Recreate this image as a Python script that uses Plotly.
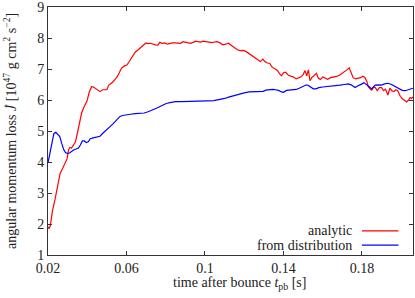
import plotly.graph_objects as go

# analytic (red)
t_analytic = [0.0200,0.0205,0.0212,0.0222,0.0236,0.0250,0.0262,0.0275,0.0287,0.0297,0.0305,0.0312,0.0320,0.0330,0.0340,0.0352,0.0362,0.0372,0.0385,0.0398,0.0410,0.0422,0.0432,0.0442,0.0455,0.0465,0.0478,0.0490,0.0500,0.0510,0.0525,0.0540,0.0553,0.0565,0.0575,0.0590,0.0602,0.0615,0.0630,0.0645,0.0660,0.0675,0.0688,0.0700,0.0710,0.0722,0.0735,0.0748,0.0760,0.0770,0.0782,0.0795,0.0808,0.0820,0.0835,0.0848,0.0860,0.0875,0.0888,0.0900,0.0912,0.0925,0.0940,0.0952,0.0965,0.0978,0.0990,0.1005,0.1020,0.1035,0.1050,0.1060,0.1075,0.1090,0.1105,0.1120,0.1135,0.1150,0.1165,0.1180,0.1195,0.1210,0.1230,0.1245,0.1258,0.1270,0.1282,0.1295,0.1305,0.1315,0.1330,0.1342,0.1355,0.1368,0.1380,0.1390,0.1400,0.1410,0.1425,0.1440,0.1452,0.1465,0.1478,0.1488,0.1500,0.1510,0.1518,0.1527,0.1535,0.1545,0.1555,0.1568,0.1578,0.1588,0.1600,0.1612,0.1625,0.1640,0.1655,0.1670,0.1685,0.1698,0.1712,0.1725,0.1735,0.1745,0.1755,0.1768,0.1780,0.1792,0.1805,0.1815,0.1825,0.1832,0.1842,0.1850,0.1860,0.1868,0.1878,0.1888,0.1900,0.1910,0.1920,0.1932,0.1942,0.1952,0.1962,0.1972,0.1982,0.1995,0.2005,0.2018,0.2028,0.2038,0.2045,0.2053,0.2060]
j_analytic = [1.91,1.85,1.95,2.4,2.8,3.3,3.64,3.8,3.95,4.1,4.4,4.47,4.45,4.55,4.65,5.0,5.3,5.6,5.8,5.95,6.25,6.43,6.42,6.38,6.3,6.27,6.33,6.33,6.33,6.48,6.55,6.65,6.75,6.9,7.03,7.1,7.13,7.25,7.42,7.55,7.62,7.72,7.78,7.84,7.82,7.83,7.8,7.78,7.77,7.86,7.83,7.84,7.8,7.82,7.84,7.84,7.84,7.83,7.88,7.87,7.85,7.83,7.86,7.9,7.88,7.87,7.9,7.88,7.85,7.85,7.87,7.88,7.85,7.78,7.8,7.83,7.76,7.7,7.62,7.59,7.6,7.56,7.47,7.4,7.34,7.28,7.24,7.32,7.24,7.2,7.18,7.06,7.0,6.96,6.85,6.78,6.88,6.9,6.8,6.78,6.74,6.68,6.7,6.74,6.82,6.95,6.78,6.97,6.62,6.73,6.78,6.86,6.7,6.66,6.74,6.7,6.67,6.72,6.73,6.76,6.8,6.85,6.92,6.98,7.04,6.85,6.72,6.68,6.7,6.72,6.77,6.72,6.6,6.43,6.35,6.32,6.42,6.4,6.3,6.4,6.4,6.3,6.35,6.16,6.38,6.3,6.27,6.33,6.3,6.12,6.05,6.0,5.94,6.0,6.08,6.05,6.1]

# from distribution (blue)
t_dist = [0.0200,0.0210,0.0220,0.0230,0.0240,0.0250,0.0260,0.0270,0.0280,0.0290,0.0300,0.0310,0.0320,0.0330,0.0343,0.0355,0.0365,0.0375,0.0385,0.0395,0.0405,0.0415,0.0430,0.0450,0.0465,0.0478,0.0490,0.0505,0.0516,0.0530,0.0542,0.0555,0.0567,0.0580,0.0595,0.0620,0.0645,0.0670,0.0690,0.0710,0.0725,0.0740,0.0755,0.0770,0.0785,0.0800,0.0815,0.0830,0.0850,0.0880,0.0910,0.0940,0.0975,0.1010,0.1045,0.1075,0.1100,0.1125,0.1150,0.1175,0.1200,0.1225,0.1250,0.1275,0.1296,0.1310,0.1330,0.1345,0.1360,0.1375,0.1390,0.1400,0.1415,0.1435,0.1465,0.1480,0.1492,0.1505,0.1517,0.1527,0.1540,0.1552,0.1565,0.1580,0.1600,0.1620,0.1655,0.1688,0.1710,0.1730,0.1745,0.1757,0.1765,0.1778,0.1790,0.1800,0.1810,0.1820,0.1832,0.1840,0.1849,0.1858,0.1868,0.1885,0.1900,0.1915,0.1933,0.1948,0.1960,0.1975,0.1990,0.2005,0.2020,0.2035,0.2048,0.2060]
j_dist = [3.97,4.3,4.7,4.92,4.96,4.9,4.82,4.6,4.4,4.3,4.28,4.29,4.34,4.39,4.42,4.45,4.55,4.68,4.68,4.63,4.65,4.75,4.78,4.81,4.83,4.92,5.0,5.08,5.14,5.22,5.3,5.4,5.47,5.5,5.52,5.54,5.56,5.57,5.58,5.62,5.65,5.7,5.74,5.79,5.84,5.88,5.91,5.93,5.95,5.95,5.95,5.95,5.96,5.97,5.98,6.01,6.05,6.1,6.15,6.2,6.23,6.26,6.27,6.27,6.28,6.32,6.34,6.34,6.33,6.31,6.26,6.25,6.31,6.33,6.34,6.38,6.42,6.47,6.49,6.47,6.41,6.36,6.36,6.4,6.42,6.43,6.44,6.48,6.5,6.52,6.49,6.43,6.4,6.45,6.48,6.52,6.56,6.52,6.45,6.41,6.36,6.42,6.48,6.49,6.48,6.52,6.54,6.51,6.47,6.42,6.35,6.31,6.3,6.33,6.35,6.38]

x_ticks = [0.02, 0.06, 0.1, 0.14, 0.18]
x_ticklabels = ["0.02", "0.06", "0.1", "0.14", "0.18"]
y_ticks = [1, 2, 3, 4, 5, 6, 7, 8, 9]
series_names = ["analytic", "from distribution"]
series_colors = ["#ff0000", "#0000ff"]
x_title = "time after bounce <i>t</i><sub>pb</sub> [s]"
y_title = "angular momentum loss <i>J&#775;</i> [10<sup>47</sup> g cm<sup>2</sup> s<sup>\u22122</sup>]"

FONT = "Liberation Serif"
TXT = "#222222"

fig = go.Figure()
fig.add_trace(go.Scatter(x=t_analytic, y=j_analytic, mode="lines", name=series_names[0],
                         line=dict(color=series_colors[0], width=1.2), showlegend=False))
fig.add_trace(go.Scatter(x=t_dist, y=j_dist, mode="lines", name=series_names[1],
                         line=dict(color=series_colors[1], width=1.2), showlegend=False))

axis_common = dict(showline=True, linecolor="#333333", linewidth=1, mirror="ticks",
                   ticks="inside", ticklen=4, tickcolor="#333333", showgrid=False,
                   zeroline=False, automargin=False, ticklabeloverflow="allow",
                   tickfont=dict(family=FONT, size=14, color=TXT))

fig.update_xaxes(range=[0.02, 0.206], tickvals=x_ticks, ticktext=x_ticklabels, **axis_common)
fig.update_yaxes(range=[1, 9], tickvals=y_ticks, **axis_common)

# axis titles
fig.add_annotation(x=0.526, y=-0.113, xref="paper", yref="paper", text=x_title,
                   showarrow=False, xanchor="center", yanchor="middle",
                   font=dict(family=FONT, size=14, color=TXT))
fig.add_annotation(x=-0.104, y=0.5, xref="paper", yref="paper", text=y_title,
                   showarrow=False, xanchor="center", yanchor="middle", textangle=-90,
                   font=dict(family=FONT, size=14, color=TXT))

# legend (text left, sample line right)
leg_y = [0.097, 0.04]
for name, color, yy in zip(series_names, series_colors, leg_y):
    fig.add_annotation(x=0.838, y=yy, xref="paper", yref="paper", text=name,
                       showarrow=False, xanchor="right", yanchor="middle",
                       font=dict(family=FONT, size=14, color=TXT))
    fig.add_shape(type="line", xref="paper", yref="paper", x0=0.86, x1=0.96, y0=yy, y1=yy,
                  line=dict(color=color, width=1.2))

fig.update_layout(width=415, height=298, margin=dict(l=48, r=2, t=7, b=43),
                  plot_bgcolor="white", paper_bgcolor="white",
                  font=dict(family=FONT, size=14, color=TXT))

fig.write_html("out.html", config={"displayModeBar": False},
               post_script="document.body.style.margin='0';")
